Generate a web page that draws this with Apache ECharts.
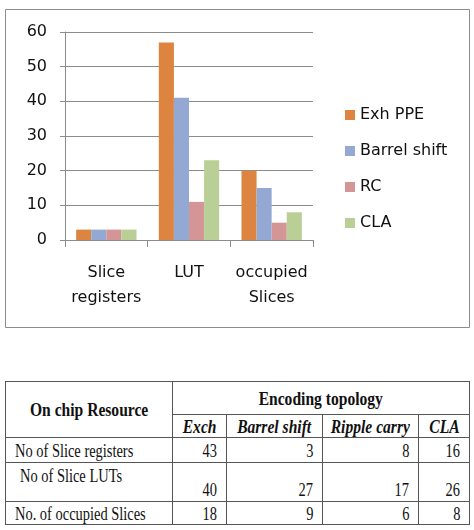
<!DOCTYPE html>
<html>
<head>
<meta charset="utf-8">
<script src="https://cdn.jsdelivr.net/npm/echarts@6/dist/echarts.min.js"></script>
<style>
  body { margin: 0; background: #fff; }
  #chart { position: absolute; left: 0; top: 0; width: 474px; height: 340px; }
  .res-table {
    position: absolute; left: 5px; top: 381px; width: 464px;
    border-collapse: collapse; table-layout: fixed;
    font-family: "Liberation Serif", "Times New Roman", serif;
    font-size: 19px; color: #111;
  }
  .res-table td { border: 1px solid #555; padding: 0 9px; overflow: hidden; white-space: nowrap; line-height: 1; }
  .sq { display: inline-block; transform: scaleX(0.76); }
  .b .sq, .bi .sq { transform: scaleX(0.82); }
  .l .sq { transform-origin: left center; margin-right: -60px; }
  .r { text-align: right; }
  .r .sq { transform-origin: right center; margin-left: -60px; }
  .c { text-align: center; }
  .c .sq { transform-origin: center center; margin: 0 -40px; }
  .b { font-weight: bold; }
  .bi { font-weight: bold; font-style: italic; }
</style>
</head>
<body>
<div id="chart"></div>
<div id="tbl"></div>
<script>
// chart data
const categories = ["Slice\nregisters", "LUT", "occupied\nSlices"];
const seriesNames = ["Exh PPE", "Barrel shift", "RC", "CLA"];
const exhPPE = [3, 57, 20];
const barrelShift = [3, 41, 15];
const rippleCarry = [3, 11, 5];
const cla = [3, 23, 8];
const colors = ["#DD8440", "#93A9D4", "#D49596", "#B9CF96"];

// table data
const tableCols = ["Exch", "Barrel shift", "Ripple carry", "CLA"];
const tableRows = ["No of Slice registers", "No of Slice LUTs", "No. of occupied Slices"];
const tableVals = [
  [43, 3, 8, 16],
  [40, 27, 17, 26],
  [18, 9, 6, 8]
];

const myChart = echarts.init(document.getElementById("chart"));
const font = "DejaVu Sans";
const gray = "#8c8c8c";
const allValues = [exhPPE, barrelShift, rippleCarry, cla];

myChart.setOption({
  animation: false,
  color: colors,
  textStyle: { fontFamily: font },
  graphic: [{
    type: "rect",
    shape: { x: 5.5, y: 9.5, width: 464, height: 318 },
    style: { fill: "none", stroke: gray, lineWidth: 1 }
  }],
  grid: { left: 65, top: 32, width: 248, height: 208 },
  legend: {
    orient: "vertical",
    left: 345,
    top: 107,
    padding: 0,
    icon: "rect",
    itemWidth: 10,
    itemHeight: 10,
    itemGap: 20,
    textStyle: { fontSize: 16, color: "#111", fontFamily: font },
    data: seriesNames
  },
  xAxis: {
    type: "category",
    data: categories,
    axisLine: { lineStyle: { color: gray } },
    axisTick: { show: true, length: 7, lineStyle: { color: gray } },
    axisLabel: { interval: 0, fontSize: 16, lineHeight: 25, margin: 20, color: "#111", fontFamily: font }
  },
  yAxis: {
    type: "value",
    min: 0,
    max: 60,
    interval: 10,
    axisLine: { show: true, lineStyle: { color: gray } },
    axisTick: { show: true, length: 5, lineStyle: { color: gray } },
    splitLine: { lineStyle: { color: gray, width: 1 } },
    axisLabel: { fontSize: 16, margin: 18, color: "#111", fontFamily: font }
  },
  series: seriesNames.map((name, i) => ({
    name: name,
    type: "bar",
    barGap: "0%",
    barCategoryGap: "27%",
    data: allValues[i]
  }))
});

// table below the chart
const colWidths = [167, 54, 96, 96, 51];
const rowHeights = [23, 25, 39, 23];
let html = '<table class="res-table"><colgroup>' +
  colWidths.map(w => '<col style="width:' + w + 'px">').join("") + '</colgroup>';
html += '<tr style="height:33px"><td rowspan="2" class="c b"><span class="sq">On chip Resource</span></td>' +
  '<td colspan="4" class="c b"><span class="sq">Encoding topology</span></td></tr>';
html += '<tr style="height:' + rowHeights[0] + 'px">' +
  tableCols.map(c => '<td class="c bi" style="padding:0 2px"><span class="sq">' + c + '</span></td>').join("") + '</tr>';
tableRows.forEach((r, i) => {
  const h = rowHeights[i + 1];
  const tall = i === 1;
  html += '<tr style="height:' + h + 'px">' +
    '<td class="l" style="' + (tall ? 'vertical-align:top;padding-top:3px;padding-left:14px' : 'padding-left:9px') + '"><span class="sq">' + r + '</span></td>' +
    tableVals[i].map(v => '<td class="r" style="' + (tall ? 'vertical-align:bottom;padding-bottom:2px' : '') + '"><span class="sq">' + v + '</span></td>').join("") +
    '</tr>';
});
html += '</table>';
document.getElementById("tbl").innerHTML = html;
</script>
</body>
</html>
